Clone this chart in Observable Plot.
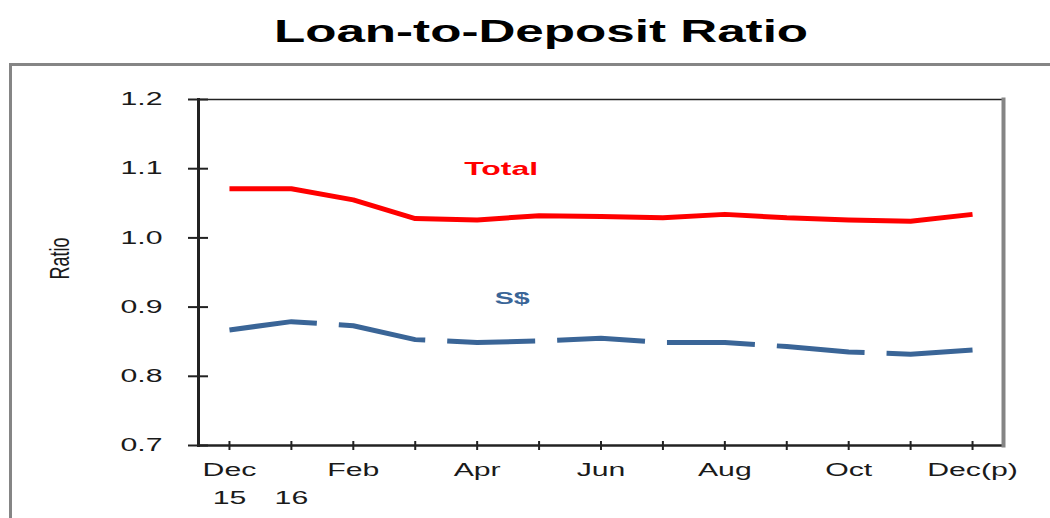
<!DOCTYPE html>
<html><head><meta charset="utf-8">
<script src="https://cdn.jsdelivr.net/npm/d3@7"></script>
<script src="https://cdn.jsdelivr.net/npm/@observablehq/plot@0.6"></script>
<style>
body{margin:0;background:#fff;width:1050px;height:518px;overflow:hidden;position:relative;font-family:"Liberation Sans",Arial,sans-serif;}
#title{position:absolute;top:16px;left:541px;transform:translateX(-50%) scaleX(1.65);font-weight:bold;font-size:31px;line-height:31px;white-space:nowrap;color:#000;}
#box{position:absolute;left:9px;top:63px;width:1100px;height:500px;border:3px solid #858585;box-sizing:border-box;}
#chart{position:absolute;left:0;top:64px;}
</style></head>
<body>
<div id="title">Loan-to-Deposit Ratio</div>
<div id="box"></div>
<div id="chart"></div>
<script>
const months = ["Dec 15","Jan","Feb","Mar","Apr","May","Jun","Jul","Aug","Sep","Oct","Nov","Dec"];
const tickLabels = ["Dec\n15","\n16","Feb","","Apr","","Jun","","Aug","","Oct","","Dec(p)"];
const yTicks = [0.7, 0.8, 0.9, 1.0, 1.1, 1.2];
const seriesNames = ["Total", "S$"];
const totalValues = [1.071,1.071,1.055,1.028,1.026,1.032,1.031,1.029,1.034,1.029,1.026,1.024,1.034];
const sgdValues = [0.867,0.879,0.873,0.853,0.849,0.851,0.855,0.849,0.849,0.843,0.835,0.832,0.838];
const axisTitle = "Ratio";

const totalData = months.map((m, i) => ({month: m, value: totalValues[i]}));
const sgdData = months.map((m, i) => ({month: m, value: sgdValues[i]}));

const red = "#ff0000", blue = "#3a6597";

const chart = Plot.plot({
  width: 1050,
  height: 454,
  marginLeft: 198,
  marginRight: 47,
  marginTop: 35,
  marginBottom: 73,
  style: {background: "transparent", fontFamily: "'Liberation Sans', Arial, sans-serif", color: "#1a1a1a"},
  x: {type: "point", domain: months, padding: 0.5, round: false},
  y: {domain: [0.7, 1.2]},
  marks: [
    Plot.frame({anchor: "top", stroke: "#222", strokeWidth: 1.5}),
    Plot.frame({anchor: "bottom", stroke: "#222", strokeWidth: 2.5}),
    Plot.frame({anchor: "left", stroke: "#222", strokeWidth: 3}),
    Plot.frame({anchor: "right", stroke: "#858585", strokeWidth: 4}),
    Plot.axisY({ticks: yTicks, tickFormat: d => d.toFixed(1), tickSize: 20, dx: 10, tickPadding: 26,
      fontSize: 18, strokeWidth: 2, stroke: "#222", label: null}),
    Plot.axisX({ticks: months, tickFormat: (d) => tickLabels[months.indexOf(d)], tickSize: 9, dy: -4, tickPadding: 6,
      fontSize: 18, lineHeight: 1.55, strokeWidth: 2, stroke: "#222", label: null}),
    Plot.text([axisTitle], {frameAnchor: "left", dx: -138, dy: -14, rotate: -90, fontSize: 18, fill: "#1a1a1a", textAnchor: "middle", lineAnchor: "middle"}),
    Plot.line(totalData, {x: "month", y: "value", stroke: red, strokeWidth: 5, strokeLinecap: "butt"}),
    Plot.line(sgdData, {x: "month", y: "value", stroke: blue, strokeWidth: 5, strokeLinecap: "butt", strokeDasharray: "88,22"}),
    Plot.text([seriesNames[0]], {x: () => "Apr", y: () => 1.1, dx: 24, fontSize: 19, fontWeight: "bold", fill: red, textAnchor: "middle", lineAnchor: "middle"}),
    Plot.text([seriesNames[1]], {x: () => "Apr", y: () => 0.912, dx: 35, fontSize: 17, fontWeight: "bold", fill: blue, textAnchor: "middle", lineAnchor: "middle"})
  ]
});

chart.querySelectorAll("text").forEach(t => {
  const tr = t.getAttribute("transform") || "";
  if (tr.includes("rotate")) t.setAttribute("transform", tr + " scale(1,1.5)");
  else if (tr) t.setAttribute("transform", tr + " scale(1.68,1)");
});
document.getElementById("chart").appendChild(chart);
</script>
</body></html>
